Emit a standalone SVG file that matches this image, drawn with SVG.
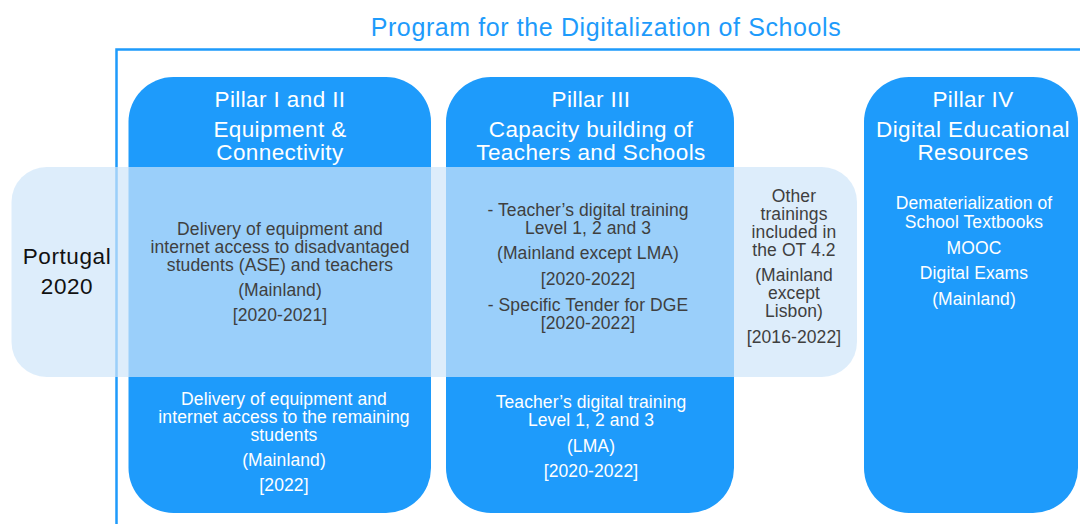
<svg xmlns="http://www.w3.org/2000/svg" width="1080" height="524" viewBox="0 0 1080 524">
  <style>
    text { font-family: "Liberation Sans", Arial, sans-serif; text-anchor: middle; }
    .pillar { fill: #1E9BFB; }
    .title { fill: #1E9BFB; font-size: 25px; letter-spacing: 0.6px; }
    .head { fill: #FFFFFF; font-size: 22.5px; letter-spacing: 0.4px; }
    .body-w { fill: #FFFFFF; font-size: 17.5px; letter-spacing: 0.1px; }
    .body-d { fill: #3F3F3F; font-size: 17.5px; letter-spacing: 0.1px; }
    .region { fill: #111111; font-size: 22.5px; letter-spacing: 0.6px; }
  </style>

  <rect width="1080" height="524" fill="#FFFFFF"/>

  <!-- Program title and frame -->
  <g id="program">
    <text class="title" x="606" y="36">Program for the Digitalization of Schools</text>
    <path d="M116.5 524 V49.5 H1080" fill="none" stroke="#1E9BFB" stroke-width="2.5"/>
  </g>

  <!-- Pillar boxes -->
  <g id="pillar-1-2">
    <rect class="pillar" x="128.5" y="77" width="302.5" height="436" rx="45" ry="45"/>
  </g>
  <g id="pillar-3">
    <rect class="pillar" x="446" y="77" width="288" height="436" rx="45" ry="45"/>
  </g>
  <g id="pillar-4">
    <rect class="pillar" x="864" y="77" width="214" height="436" rx="45" ry="45"/>
  </g>

  <!-- Portugal 2020 band laid across the pillars -->
  <g id="portugal-2020-band">
    <rect x="11.5" y="167" width="845.5" height="210" rx="35" ry="35" fill="#CEE6F9" fill-opacity="0.7"/>
  </g>

  <!-- Pillar headings and contents -->
  <g id="pillar-1-2-text">
    <text class="head" x="280" y="107">Pillar I and II</text>
    <text class="head" x="280" y="137">Equipment &amp;</text>
    <text class="head" x="280" y="160">Connectivity</text>
    <text class="body-d" x="280" y="234.5">Delivery of equipment and</text>
    <text class="body-d" x="280" y="252.5">internet access to disadvantaged</text>
    <text class="body-d" x="280" y="270.5">students (ASE) and teachers</text>
    <text class="body-d" x="280" y="295.5">(Mainland)</text>
    <text class="body-d" x="280" y="321">[2020-2021]</text>
    <text class="body-w" x="284" y="405">Delivery of equipment and</text>
    <text class="body-w" x="284" y="423">internet access to the remaining</text>
    <text class="body-w" x="284" y="441">students</text>
    <text class="body-w" x="284" y="466">(Mainland)</text>
    <text class="body-w" x="284" y="491">[2022]</text>
  </g>

  <g id="pillar-3-text">
    <text class="head" x="591" y="107">Pillar III</text>
    <text class="head" x="591" y="137">Capacity building of</text>
    <text class="head" x="591" y="160">Teachers and Schools</text>
    <text class="body-d" x="588" y="215.5">- Teacher’s digital training</text>
    <text class="body-d" x="588" y="233.5">Level 1, 2 and 3</text>
    <text class="body-d" x="588" y="259">(Mainland except LMA)</text>
    <text class="body-d" x="588" y="285">[2020-2022]</text>
    <text class="body-d" x="588" y="311">- Specific Tender for DGE</text>
    <text class="body-d" x="588" y="329">[2020-2022]</text>
    <text class="body-w" x="591" y="408">Teacher’s digital training</text>
    <text class="body-w" x="591" y="426">Level 1, 2 and 3</text>
    <text class="body-w" x="591" y="452">(LMA)</text>
    <text class="body-w" x="591" y="477">[2020-2022]</text>
  </g>

  <g id="other-trainings">
    <text class="body-d" x="794" y="201.5">Other</text>
    <text class="body-d" x="794" y="219.5">trainings</text>
    <text class="body-d" x="794" y="237.5">included in</text>
    <text class="body-d" x="794" y="255.5">the OT 4.2</text>
    <text class="body-d" x="794" y="280.5">(Mainland</text>
    <text class="body-d" x="794" y="298.5">except</text>
    <text class="body-d" x="794" y="316.5">Lisbon)</text>
    <text class="body-d" x="794" y="343">[2016-2022]</text>
  </g>

  <g id="pillar-4-text">
    <text class="head" x="973" y="107">Pillar IV</text>
    <text class="head" x="973" y="137">Digital Educational</text>
    <text class="head" x="973" y="160">Resources</text>
    <text class="body-w" x="974" y="209">Dematerialization of</text>
    <text class="body-w" x="974" y="227.5">School Textbooks</text>
    <text class="body-w" x="974" y="254">MOOC</text>
    <text class="body-w" x="974" y="279">Digital Exams</text>
    <text class="body-w" x="974" y="305">(Mainland)</text>
  </g>

  <g id="portugal-2020-label">
    <text class="region" x="67" y="264">Portugal</text>
    <text class="region" x="67" y="294">2020</text>
  </g>

  <g id="connectors"></g>
</svg>
